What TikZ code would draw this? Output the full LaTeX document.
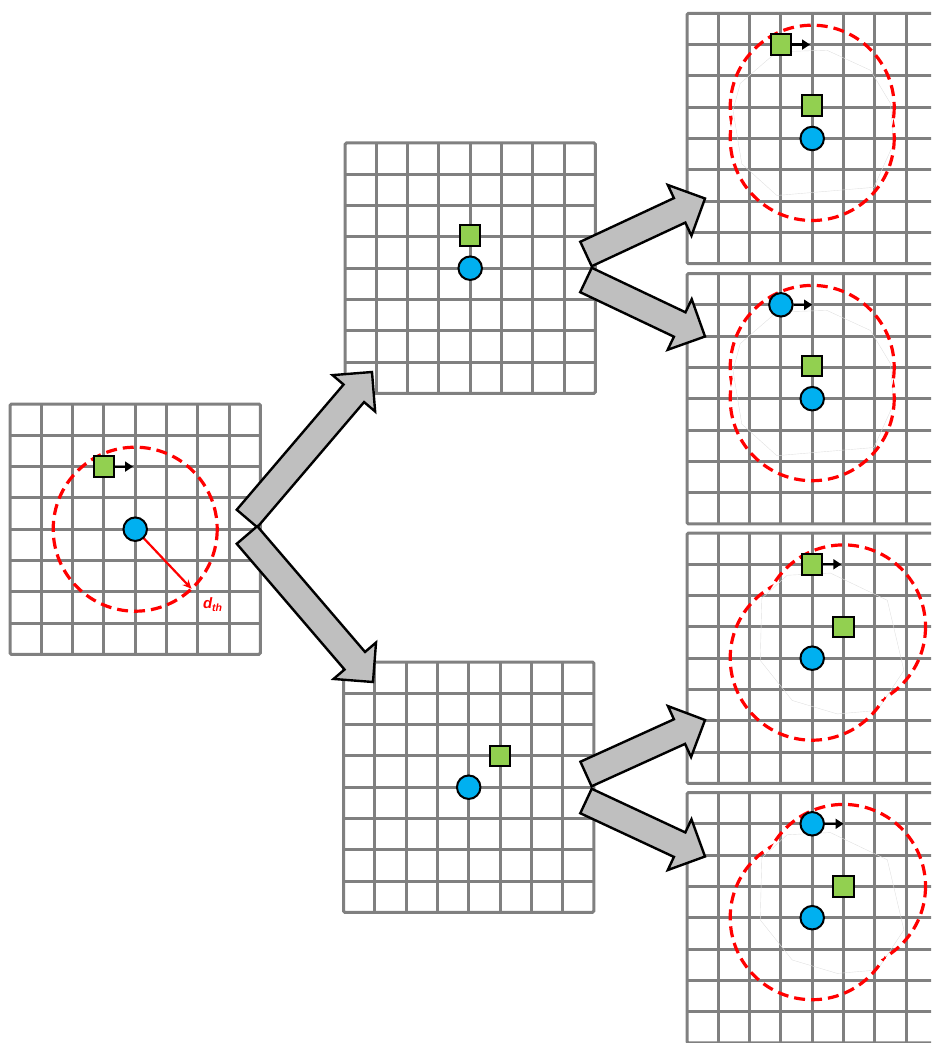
\documentclass[tikz,border=0pt]{standalone}
\usepackage{fontspec}
\setsansfont{Liberation Sans}
\usetikzlibrary{calc,arrows.meta}

\definecolor{gridgray}{RGB}{128,128,128}
\definecolor{robotblue}{RGB}{0,176,240}
\definecolor{targetgreen}{RGB}{146,208,80}
\definecolor{arrowgray}{RGB}{191,191,191}
\definecolor{zonered}{RGB}{255,0,0}

% 8x8 cell grid of one panel
\newcommand{\cellgrid}{%
  \foreach \k in {1,...,7} {
    \draw[gridline] (\k,0) -- (\k,8);
    \draw[gridline] (0,\k) -- (8,\k);
  }
  \draw[gridline, rounded corners=1.5pt] (0,0) rectangle (8,8);
}

% outline of two overlapping zones
\newcommand{\unionzone}[2]{%
  \begin{scope}[even odd rule]
    \clip (-2,-2) rectangle (10,10) (#2) circle (2.62);
    \draw[zone] (#1) circle (2.62);
  \end{scope}
  \begin{scope}[even odd rule]
    \clip (-2,-2) rectangle (10,10) (#1) circle (2.62);
    \draw[zone] (#2) circle (2.62);
  \end{scope}
}

% big block arrow from tail #1 to tip #2
\newcommand{\fatarrow}[2]{%
  \path coordinate (hb) at ($(#2)!28pt!(#1)$);
  \draw[fat] ($(#1)!13.5pt!90:(#2)$) -- ($(hb)!13.5pt!90:(#2)$)
    -- ($(hb)!28pt!90:(#2)$) -- (#2) -- ($(hb)!28pt!-90:(#2)$)
    -- ($(hb)!13.5pt!-90:(#2)$) -- ($(#1)!13.5pt!-90:(#2)$) -- cycle;
}

\begin{document}
\begin{tikzpicture}[x=1pt, y=-1pt,
  gridline/.style={draw=gridgray, line width=3pt},
  panel/.style={x=31.3pt, y=-31.3pt},
  robot/.style={circle, draw=black, line width=2pt, fill=robotblue, minimum size=23.5pt, inner sep=0pt},
  target/.style={rectangle, draw=black, line width=2pt, fill=targetgreen, minimum size=20.5pt, inner sep=0pt},
  move/.style={draw=black, line width=2.2pt, -{Triangle[length=8pt,width=10pt]}},
  zone/.style={draw=zonered, line width=3.2pt, dash pattern=on 11pt off 6pt},
  dtharrow/.style={draw=zonered, line width=2.2pt, -{Stealth[length=9pt,width=8pt]}},
  hull/.style={draw=black!12, line width=0.4pt},
  fat/.style={draw=black, fill=arrowgray, line width=2.4pt, line join=miter},
  dthlabel/.style={text=zonered, font=\sffamily\bfseries\itshape\fontsize{15}{15}\selectfont, inner sep=0pt}]

\path[use as bounding box, clip] (0,0) rectangle (931,1043);

% start
\begin{scope}[shift={(10,404)}, panel]
  \cellgrid
  \draw[zone] (4,4) circle (2.62);
  \coordinate (dend) at ($(4,4)+(46.6:2.62)$);
  \draw[dtharrow] (4,4) -- (dend);
  \node[robot] (r0) at (4,4) {};
  \node[target] (t0) at (3,2) {};
  \coordinate (m0) at (3.93,2);
  \draw[move] (t0) -- (m0);
  \node[dthlabel] (dth) at (6.48,6.4) {d\textsubscript{th}};
\end{scope}

% upper branch
\begin{scope}[shift={(345,143)}, panel]
  \cellgrid
  \node[robot] (r1) at (4,4) {};
  \node[target] (t1) at (4,2.95) {};
\end{scope}

% lower branch
\begin{scope}[shift={(343.5,662)}, panel]
  \cellgrid
  \node[robot] (r2) at (4,4) {};
  \node[target] (t2) at (5,3) {};
\end{scope}

% right column
\begin{scope}[shift={(687,13.3)}, panel]
  \cellgrid
  \draw[hull] (2.87,1.23) -- (4.47,1.18) -- (5.86,1.82) -- (6.5,2.88) -- (6.6,4.17)
    -- (5.97,5.56) -- (2.87,5.82) -- (1.75,4.81) -- (1.47,3.1) -- (1.7,2.24) -- cycle;
  \unionzone{4,4}{4,3}
  \node[robot] (r3) at (4,4) {};
  \node[target] (t3) at (4,2.95) {};
  \node[target] (t3m) at (3,1) {};
  \coordinate (m3) at (3.93,1);
  \draw[move] (t3m) -- (m3);
\end{scope}

\begin{scope}[shift={(687,273.5)}, panel]
  \cellgrid
  \draw[hull] (2.87,1.23) -- (4.47,1.18) -- (5.86,1.82) -- (6.5,2.88) -- (6.6,4.17)
    -- (5.97,5.56) -- (2.87,5.82) -- (1.75,4.81) -- (1.47,3.1) -- (1.7,2.24) -- cycle;
  \unionzone{4,4}{4,3}
  \node[robot] (r4) at (4,4) {};
  \node[target] (t4) at (4,2.95) {};
  \node[robot] (r4m) at (3,1) {};
  \coordinate (m4) at (4,1);
  \draw[move] (r4m) -- (m4);
\end{scope}

\begin{scope}[shift={(687,533)}, panel]
  \cellgrid
  \draw[hull] (2.39,2.09) -- (3.2,1.35) -- (4.58,1.28) -- (6.4,2.15) -- (6.93,4.39)
    -- (6.08,5.67) -- (4.8,5.78) -- (3.36,5.35) -- (2.34,4.07) -- cycle;
  \unionzone{4,4}{5,3}
  \node[robot] (r5) at (4,4) {};
  \node[target] (t5) at (5,3) {};
  \node[target] (t5m) at (4,1) {};
  \coordinate (m5) at (4.93,1);
  \draw[move] (t5m) -- (m5);
\end{scope}

\begin{scope}[shift={(687,792.5)}, panel]
  \cellgrid
  \draw[hull] (2.39,2.09) -- (3.2,1.35) -- (4.58,1.28) -- (6.4,2.15) -- (6.93,4.39)
    -- (6.08,5.67) -- (4.8,5.78) -- (3.36,5.35) -- (2.34,4.07) -- cycle;
  \unionzone{4,4}{5,3}
  \node[robot] (r6) at (4,4) {};
  \node[target] (t6) at (5,3) {};
  \node[robot] (r6m) at (4,1) {};
  \coordinate (m6) at (5,1);
  \draw[move] (r6m) -- (m6);
\end{scope}

% branch arrows
\coordinate (a1s) at (247,518.5);
\coordinate (a1e) at (372,372);
\coordinate (a2s) at (247,535);
\coordinate (a2e) at (373,682);
\coordinate (a3s) at (586,254);
\coordinate (a3e) at (705,198.5);
\coordinate (a4s) at (586,280);
\coordinate (a4e) at (705,336.5);
\coordinate (a5s) at (586,774);
\coordinate (a5e) at (705,720);
\coordinate (a6s) at (586,801);
\coordinate (a6e) at (705,856.5);
\fatarrow{a1s}{a1e}
\fatarrow{a2s}{a2e}
\fatarrow{a3s}{a3e}
\fatarrow{a4s}{a4e}
\fatarrow{a5s}{a5e}
\fatarrow{a6s}{a6e}
\end{tikzpicture}
\end{document}
